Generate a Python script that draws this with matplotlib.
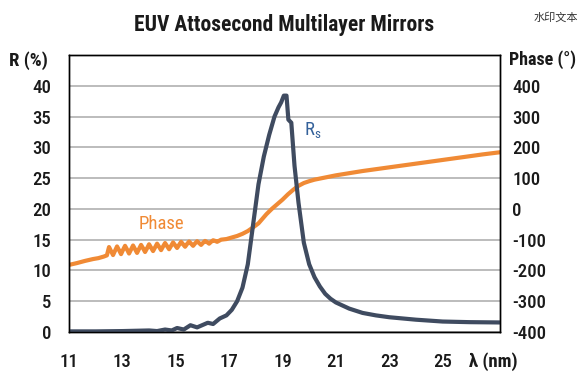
import matplotlib
matplotlib.use("Agg")
import matplotlib.pyplot as plt
from matplotlib import font_manager

# pick a narrow face if one is installed, otherwise Roboto
names = {f.name for f in font_manager.fontManager.ttflist}
FONT = "Roboto"
for cand in ["Roboto Condensed", "Liberation Sans Narrow", "Open Sans Condensed"]:
    if cand in names:
        FONT = cand
        break
plt.rcParams["font.family"] = [FONT, "DejaVu Sans"]
plt.rcParams["axes.unicode_minus"] = False

# reflectance Rs (%) vs wavelength (nm)
rs_wl = [11.0, 12.0, 13.0, 13.5, 14.0, 14.3, 14.6, 14.85, 15.05, 15.3, 15.55,
         15.8, 16.2, 16.4, 16.65, 16.9, 17.1, 17.3, 17.5, 17.7, 17.9, 18.1,
         18.3, 18.5, 18.7, 18.85, 18.95, 19.05, 19.15, 19.22, 19.33, 19.45,
         19.6, 19.8, 20.0, 20.2, 20.4, 20.6, 20.8, 21.0, 21.5, 22.0, 22.5,
         23.0, 24.0, 25.0, 26.0, 27.15]
rs_val = [0.1, 0.1, 0.15, 0.2, 0.25, 0.15, 0.4, 0.25, 0.65, 0.4, 1.1,
          0.75, 1.5, 1.3, 2.2, 2.7, 3.6, 5.0, 7.2, 11.0, 17.5, 24.0,
          28.5, 32.0, 35.0, 36.5, 37.3, 38.4, 38.4, 34.5, 34.0, 27.0,
          21.0, 14.5, 11.0, 8.9, 7.4, 6.2, 5.4, 4.8, 3.8, 3.1, 2.7,
          2.4, 2.0, 1.7, 1.6, 1.55]

# phase (deg) vs wavelength (nm); ripple read as peak / mid / trough / mid
ph_wl = [11.0, 11.3, 11.6, 11.9, 12.1, 12.3, 12.42,
         12.50, 12.575, 12.65, 12.725, 12.80, 12.875, 12.95, 13.025,
         13.10, 13.175, 13.25, 13.325, 13.40, 13.475, 13.55, 13.625,
         13.70, 13.775, 13.85, 13.925, 14.00, 14.075, 14.15, 14.225,
         14.30, 14.375, 14.45, 14.525, 14.60, 14.675, 14.75, 14.825,
         14.90, 14.975, 15.05, 15.125, 15.20, 15.275, 15.35, 15.425,
         15.50, 15.575, 15.65, 15.725, 15.80, 15.875, 15.95, 16.025,
         16.10, 16.175, 16.25, 16.325, 16.40, 16.475, 16.55,
         16.7, 16.9, 17.1, 17.3, 17.5, 17.7, 17.9, 18.1, 18.4, 18.6, 18.8,
         19.0, 19.2, 19.4, 19.6, 19.8, 20.0, 20.2, 20.6, 21.0, 21.5, 22.0,
         22.5, 23.0, 23.5, 24.0, 24.5, 25.0, 25.5, 26.0, 26.5, 27.15]
ph_val = [-182, -176, -169, -163, -160, -155, -151,
          -124, -137, -150, -136, -122, -134, -147, -133,
          -120, -132, -145, -132, -119, -131, -143, -130,
          -117, -128, -140, -128, -115, -126, -137, -125,
          -113, -123, -134, -122, -111, -121, -131, -120,
          -109, -118, -127, -117, -107, -115, -123, -114,
          -106, -113, -120, -112, -105, -111, -117, -110,
          -104, -108, -113, -107, -102, -104, -107,
          -100, -98, -93, -88, -81, -72, -60, -47, -17, 0, 15,
          30, 47, 62, 75, 84, 90, 95, 102, 109, 116, 123,
          129, 135, 141, 147, 153, 159, 165, 171, 177, 184]

x_ticks = [11, 13, 15, 17, 19, 21, 23, 25]
r_ticks = [0, 5, 10, 15, 20, 25, 30, 35, 40]
ph_ticks = [-400, -300, -200, -100, 0, 100, 200, 300, 400]

RS_COLOR = "#3f4b60"
PH_COLOR = "#f08a35"
TXT = "#1a1a1a"

fig = plt.figure(figsize=(5.88, 3.89), dpi=100)
ax = fig.add_axes([69 / 588, 57 / 389, 431 / 588, 277 / 389])
ax2 = ax.twinx()

# phase axis sits below so the Rs curve is drawn on top
ax.set_zorder(ax2.get_zorder() + 1)
ax.patch.set_visible(False)

ax2.plot(ph_wl, ph_val, color=PH_COLOR, lw=3.0, solid_joinstyle="round")
ax.plot(rs_wl, rs_val, color=RS_COLOR, lw=3.0, solid_joinstyle="round")

ax.set_xlim(11, 27.15)
ax.set_ylim(0, 45)
ax2.set_ylim(-400, 500)

ax.set_xticks(x_ticks)
ax.set_yticks(r_ticks)
ax2.set_yticks(ph_ticks)
ax2.set_axisbelow(True)
ax2.grid(axis="y", color="#b0b0b0", lw=1.2)
ax.grid(False)

ax.tick_params(axis="x", length=0, pad=15, labelsize=13.5)
ax.tick_params(axis="y", length=0, pad=13, labelsize=13.5)
ax2.tick_params(axis="y", length=0, pad=9, labelsize=13.5)
for lab in ax.get_xticklabels() + ax.get_yticklabels() + ax2.get_yticklabels():
    lab.set_color(TXT)
    lab.set_fontweight("medium")

for a in (ax, ax2):
    for s in a.spines.values():
        s.set_linewidth(1.0)
        s.set_color("black")

fig.text(284 / 588, 1 - 25 / 389, "EUV Attosecond Multilayer Mirrors",
         ha="center", va="center", fontsize=15.5, fontweight="bold", color=TXT)
fig.text(9 / 588, 1 - 61 / 389, "R (%)", ha="left", va="center",
         fontsize=13.5, fontweight="bold", color=TXT)
fig.text(509 / 588, 1 - 60 / 389, "Phase (°)", ha="left", va="center",
         fontsize=13, fontweight="bold", color=TXT)
fig.text(469 / 588, 1 - 362 / 389, "λ (nm)", ha="left", va="center",
         fontsize=13.5, fontweight="bold", color=TXT)
fig.text(578 / 588, 1 - 17 / 389, "水印文本", ha="right", va="center",
         fontsize=8, color="#333333", family=["Noto Sans CJK SC", "DejaVu Sans"])

ax.text(14.45, 17.6, "Phase", ha="center", va="center", fontsize=13.5, color=PH_COLOR)
ax.text(19.82, 32.6, r"R$_\mathregular{s}$", ha="left", va="center",
        fontsize=13.5, color="#34619a")

fig.savefig("out.png", dpi=100)
